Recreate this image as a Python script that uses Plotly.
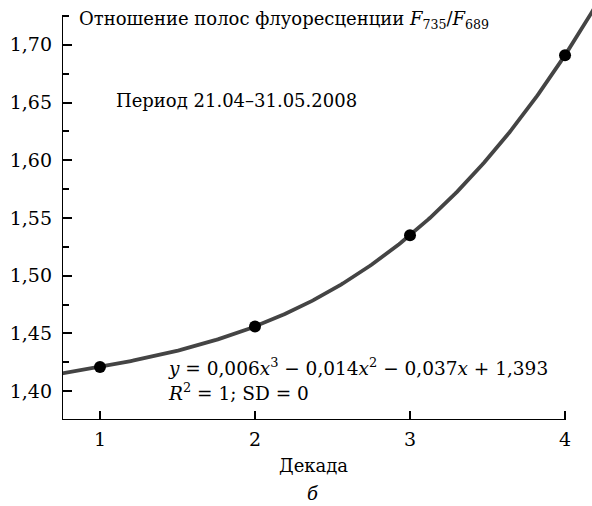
import numpy as np
import plotly.graph_objects as go

# ---- data ----
decades = [1, 2, 3, 4]
ratio = [1.421, 1.456, 1.535, 1.691]
y_tickvals = [1.40, 1.45, 1.50, 1.55, 1.60, 1.65, 1.70]
y_ticktext = ["1,40", "1,45", "1,50", "1,55", "1,60", "1,65", "1,70"]
x_tickvals = [1, 2, 3, 4]
x_ticktext = ["1", "2", "3", "4"]

title_text = "Отношение полос флуоресценции <i>F</i><sub>735</sub>/<i>F</i><sub>689</sub>"
period_text = "Период 21.04–31.05.2008"
eq_text = "<i>y</i> = 0,006<i>x</i><sup>3</sup> − 0,014<i>x</i><sup>2</sup> − 0,037<i>x</i> + 1,393"
r2_text = "<i>R</i><sup>2</sup> = 1; SD = 0"
x_title = "Декада"
panel_label = "<i>б</i>"

X0, X1 = 0.755, 4.174
Y0, Y1 = 1.375, 1.7388

# cubic trend line fitted to the data points
coef = np.polyfit(decades, ratio, 3)
xf = np.linspace(X0, 4.25, 300)
yf = np.polyval(coef, xf)

FONT = "DejaVu Serif"
fig = go.Figure()
fig.add_trace(go.Scatter(x=xf, y=yf, mode="lines",
                         line=dict(color="#444444", width=3.8),
                         hoverinfo="skip", showlegend=False))
fig.add_trace(go.Scatter(x=decades, y=ratio, mode="markers",
                         marker=dict(color="black", size=12),
                         showlegend=False))

# axis lines
fig.add_shape(type="line", x0=X0, x1=X0, y0=Y0, y1=1.725, xref="x", yref="y",
              line=dict(color="black", width=2))
fig.add_shape(type="line", x0=X0, x1=4, y0=Y0, y1=Y0, xref="x", yref="y",
              line=dict(color="black", width=2))

def px(xp):
    return (xp - 62) / 530
def py(yp):
    return (420 - yp) / 420

ann = dict(showarrow=False, xref="paper", yref="paper", font=dict(family=FONT, size=18, color="black"))
fig.add_annotation(text=title_text, x=px(77), y=py(20), xanchor="left", yanchor="middle", **ann)
fig.add_annotation(text=period_text, x=px(114), y=py(100), xanchor="left", yanchor="middle", **ann)
fig.add_annotation(text=eq_text, x=px(166), y=py(367), xanchor="left", yanchor="middle",
                   **{**ann, "font": dict(family=FONT, size=18.5, color="black")})
fig.add_annotation(text=r2_text, x=px(166), y=py(392), xanchor="left", yanchor="middle",
                   **{**ann, "font": dict(family=FONT, size=18.5, color="black")})
fig.add_annotation(text=x_title, x=px(313), y=py(465), xanchor="center", yanchor="middle", **ann)
fig.add_annotation(text=panel_label, x=px(313), y=py(493), xanchor="center", yanchor="middle", **ann)

fig.update_xaxes(range=[X0, X1], showline=False, showgrid=False, zeroline=False,
                 tickmode="array", tickvals=x_tickvals, ticktext=x_ticktext,
                 ticks="inside", ticklen=9, tickwidth=2, tickcolor="black",
                 ticklabelstandoff=6,
                 tickfont=dict(family=FONT, size=19, color="black"))
fig.update_yaxes(range=[Y0, Y1], showline=False, showgrid=False, zeroline=False,
                 tickmode="array", tickvals=y_tickvals, ticktext=y_ticktext,
                 ticks="inside", ticklen=10, tickwidth=2, tickcolor="black",
                 ticklabelstandoff=9,
                 minor=dict(tickmode="array", tickvals=[1.425, 1.475, 1.525, 1.575, 1.625, 1.675, 1.725],
                            ticks="inside", ticklen=7, tickwidth=2, tickcolor="black", showgrid=False),
                 tickfont=dict(family=FONT, size=19, color="black"))

fig.update_layout(width=592, height=506, margin=dict(l=62, r=0, t=0, b=86),
                  plot_bgcolor="white", paper_bgcolor="white", showlegend=False)
fig.write_html("out.html", config={"displayModeBar": False},
               post_script="document.body.style.margin='0';")
